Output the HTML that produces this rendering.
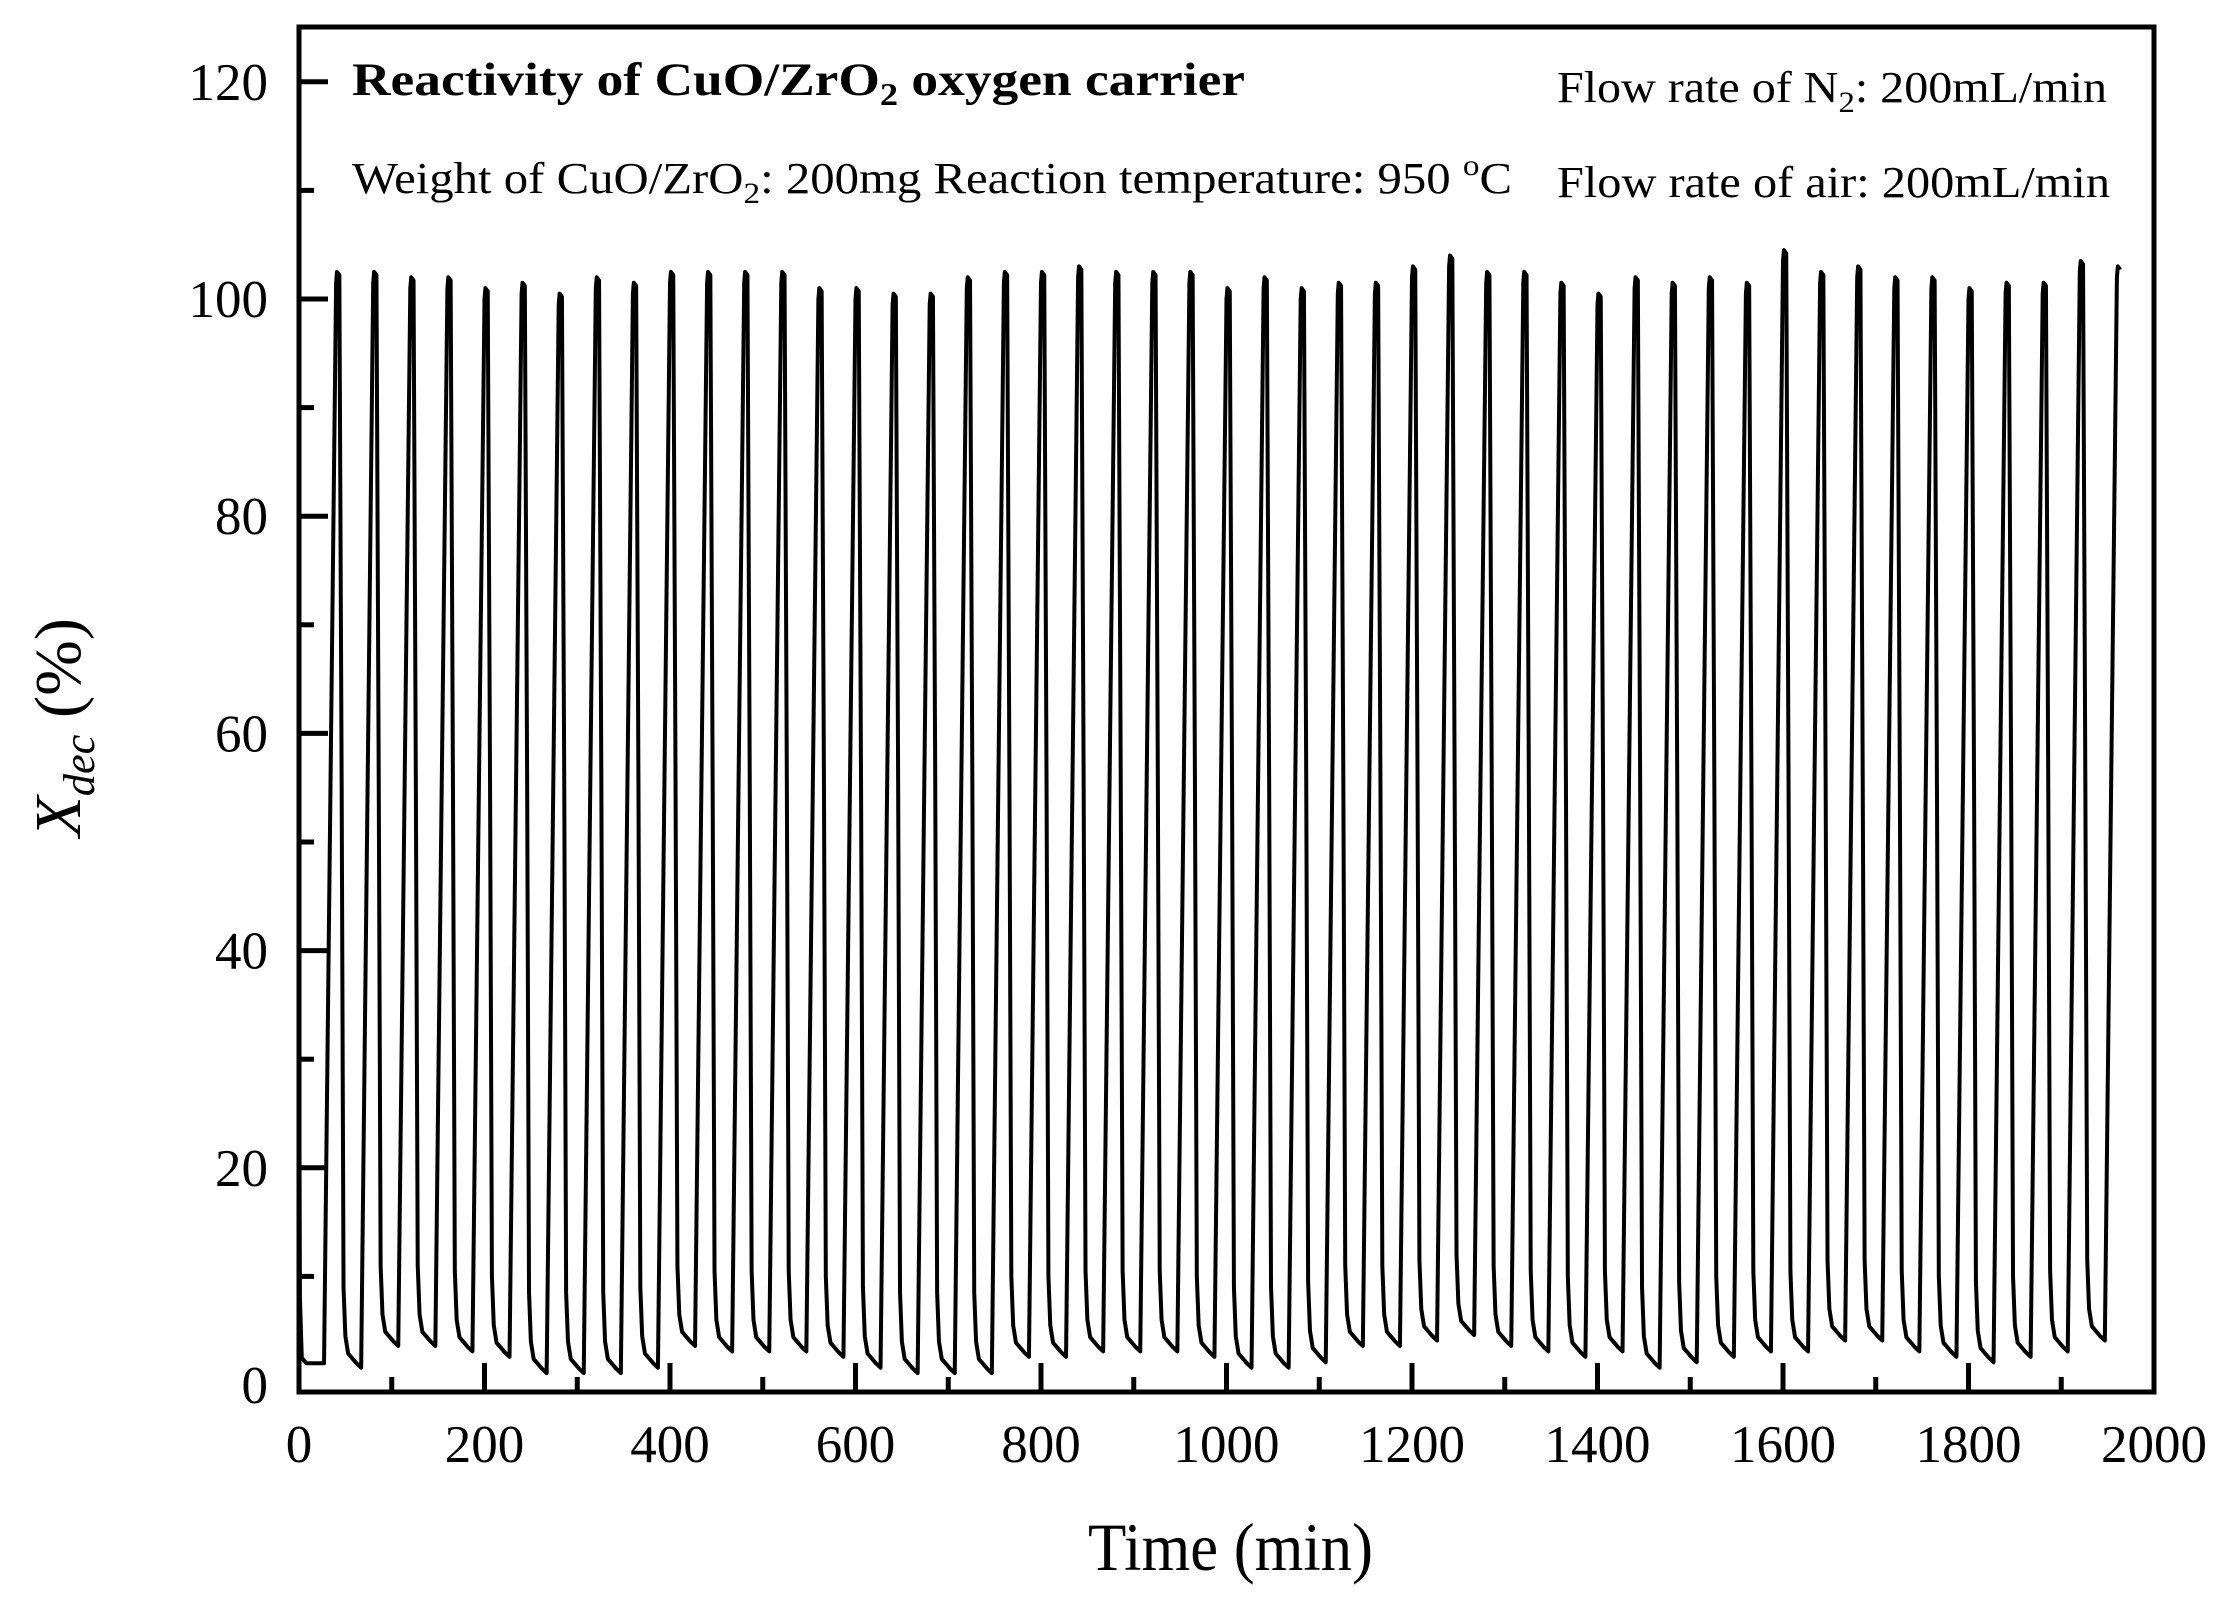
<!DOCTYPE html>
<html><head><meta charset="utf-8"><style>
html,body{margin:0;padding:0;background:#fff;}
svg{display:block;}
text{font-family:"Liberation Serif","DejaVu Serif",serif;fill:#000;}
</style></head><body>
<svg id="s" width="2226" height="1608" viewBox="0 0 2226 1608" xmlns="http://www.w3.org/2000/svg">
<rect width="2226" height="1608" fill="#fff"/>
<path id="data" d="" fill="none" stroke="#000" stroke-width="4" stroke-linejoin="round"/>
<g id="ticks" stroke="#000" stroke-width="5"></g>
<rect x="299" y="27" width="1855" height="1365" fill="none" stroke="#000" stroke-width="5"/>
<g id="labels" font-size="53"></g>
<text x="352" y="95" font-size="47" font-weight="bold" textLength="893" lengthAdjust="spacingAndGlyphs">Reactivity of CuO/ZrO<tspan font-size="32" dy="10">2</tspan><tspan dy="-10"> oxygen carrier</tspan></text>
<text x="352" y="193" font-size="44" textLength="1160" lengthAdjust="spacingAndGlyphs">Weight of CuO/ZrO<tspan font-size="30" dy="10">2</tspan><tspan dy="-10">: 200mg   Reaction temperature: 950 </tspan><tspan font-size="30" dy="-18">o</tspan><tspan dy="18">C</tspan></text>
<text x="1557" y="102" font-size="44" textLength="550" lengthAdjust="spacingAndGlyphs">Flow rate of N<tspan font-size="30" dy="10">2</tspan><tspan dy="-10">: 200mL/min</tspan></text>
<text x="1557" y="197" font-size="44" textLength="553" lengthAdjust="spacingAndGlyphs">Flow rate of air: 200mL/min</text>
<text x="1088" y="1570" font-size="68" textLength="285" lengthAdjust="spacingAndGlyphs">Time (min)</text>
<g transform="translate(80,837) rotate(-90)">
<text x="0" y="0" font-size="66" textLength="219" lengthAdjust="spacingAndGlyphs"><tspan font-style="italic">X</tspan><tspan font-style="italic" font-size="44" dy="14">dec</tspan><tspan dy="-14"> (%)</tspan></text>
</g>
</svg>
<script>
var X=function(t){return 299+t*0.9275;};
var Y=function(v){return 1385-v*10.86;};
var ns="http://www.w3.org/2000/svg";
var tk=document.getElementById('ticks'),lb=document.getElementById('labels');
function ln(x1,y1,x2,y2){var l=document.createElementNS(ns,'line');l.setAttribute('x1',x1);l.setAttribute('y1',y1);l.setAttribute('x2',x2);l.setAttribute('y2',y2);tk.appendChild(l);}
function tx(x,y,s,a){var e=document.createElementNS(ns,'text');e.setAttribute('x',x);e.setAttribute('y',y);e.setAttribute('text-anchor',a);e.textContent=s;lb.appendChild(e);}
for(var t=100;t<2000;t+=100){var x=X(t);ln(x,1392,x,t%200==0?1363:1377);}
for(var t=0;t<=2000;t+=200){tx(X(t),1462,String(t),'middle');}
for(var v=10;v<=120;v+=10){var y=Y(v);ln(299,y,v%20==0?328:314,y);}
for(var v=0;v<=120;v+=20){tx(268,Y(v)+18,String(v),'end');}
var peaks=[102.5,102.5,102,102,101,101.5,100.5,102,101.5,102.5,102.5,102.5,102.5,101,101,100.5,100.5,102,102.5,102.5,103,102.5,102.5,102.5,101,102,101,101.5,101.5,103,104,102.5,102.5,101.5,100.5,102,101.5,102,101.5,104.5,102.5,103,102,102,101,101.5,101.5,103.5,103];
var bots=[2,4,4,3.5,3,1.5,1.5,1.5,2,4,3.5,3.5,3.5,3,2,1.5,1.5,1.5,3,3,3.5,3.5,3.5,3,2,2,2.5,4,4,4.5,5,4,3.5,3,3.5,2,2.5,3,3.5,3.5,4.5,4.5,3.5,3,2.5,3,3.5,4.5,4.5];
function b0(k){return k==0?2:bots[k-1]-0.4;}
var d='M'+X(0)+' '+Y(38);
d+=' L'+X(1)+' '+Y(8)+' L'+X(3)+' '+Y(2.5)+' L'+X(8)+' '+Y(2)+' L'+X(26)+' '+Y(2);
for(var k=0;k<49;k++){
 var p=42+40*k,h=peaks[k],b=bots[k];
 d+=' L'+X(p-15)+' '+Y(b0(k))+' L'+X(p-2)+' '+Y(h-1)+' L'+X(p-1)+' '+Y(h)+' L'+X(p+1.5)+' '+Y(h-0.3);
 if(k==48)break;
 d+=' L'+X(p+4)+' '+Y(55)+' L'+X(p+6)+' '+Y(b+7)+' L'+X(p+8)+' '+Y(b+2.5)+' L'+X(p+11)+' '+Y(b+0.9);
 d+=' L'+X(p+20)+' '+Y(b)+' L'+X(p+25)+' '+Y(b-0.4);
}
document.getElementById('data').setAttribute('d',d);
</script>
</body></html>
